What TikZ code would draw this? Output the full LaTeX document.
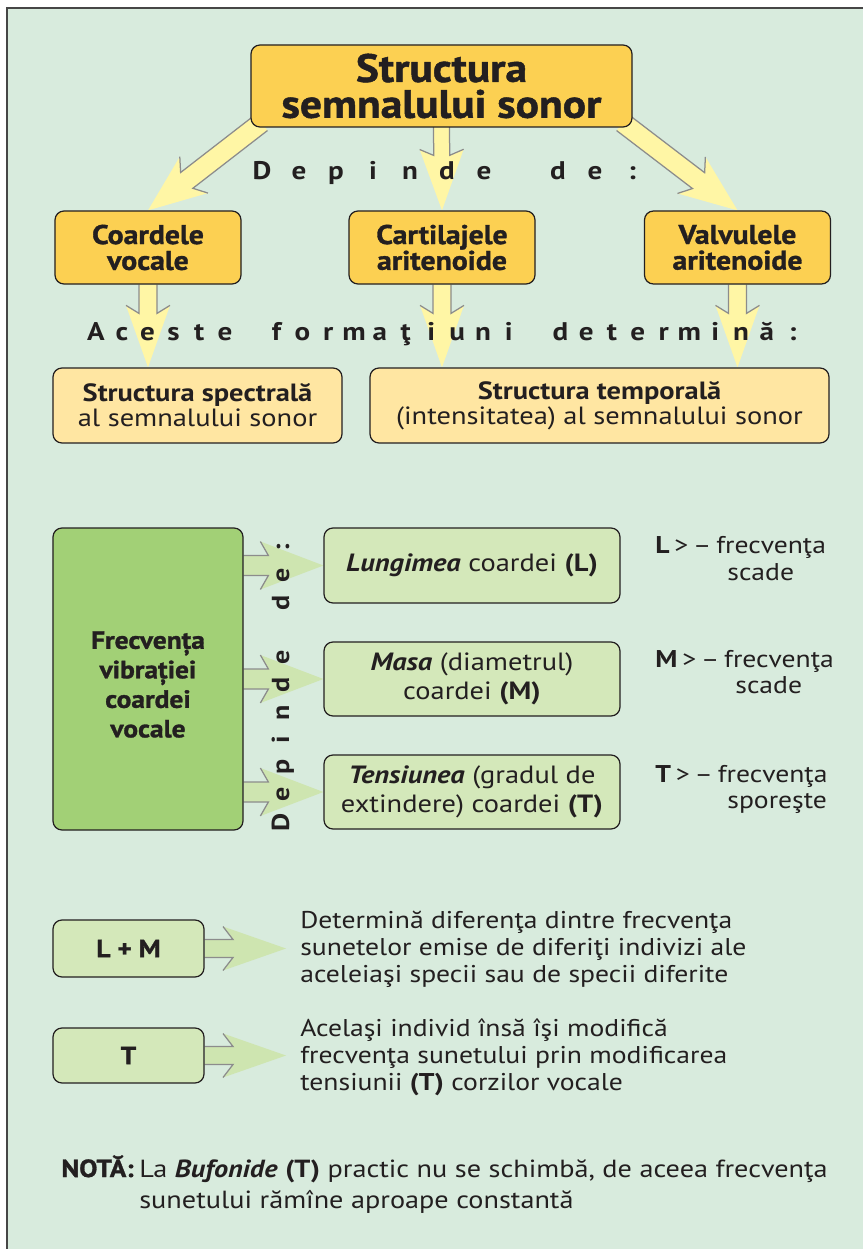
\documentclass[tikz,border=0pt]{standalone}
\usepackage{fontspec}
\setmainfont[FakeStretch=1.14]{PT Sans}
\newfontfamily\heavyfont[FakeStretch=1.1, FakeBold=1.2]{PT Sans}
\usetikzlibrary{calc}

\definecolor{bgmint}{RGB}{216,235,221}
\definecolor{framegray}{RGB}{70,70,70}
\definecolor{inkblack}{RGB}{35,31,32}
\definecolor{boxorange}{RGB}{252,208,82}
\definecolor{boxcream}{RGB}{255,230,162}
\definecolor{arrowyellow}{RGB}{255,246,165}
\definecolor{boxgreen}{RGB}{162,208,118}
\definecolor{boxlight}{RGB}{212,232,186}
\definecolor{arrowgreen}{RGB}{206,229,176}
\definecolor{edgegray}{RGB}{140,140,140}

\newcommand\titlesize{\fontsize{22.5}{20.4}\selectfont}
\newcommand\headsize{\fontsize{15.4}{14.7}\selectfont}
\newcommand\spacesize{\fontsize{14.5}{15}\selectfont}
\newcommand\vspacesize{\fontsize{14}{14}\selectfont}
\newcommand\cardsize{\fontsize{14.2}{14.2}\selectfont}
\newcommand\freqsize{\fontsize{14.2}{16.8}\selectfont}
\newcommand\bodysize{\fontsize{13.8}{15.3}\selectfont}
\newcommand\notesize{\fontsize{14.1}{17.6}\selectfont}

\pgfdeclarelayer{back}
\pgfdeclarelayer{mid}
\pgfsetlayers{back,mid,main}

\tikzset{
  card/.style={draw=inkblack, line width=0.7pt, rounded corners=1.8mm, align=center, inner sep=0pt, text=inkblack},
  spaced/.style={font=\spacesize\bfseries, text=inkblack, inner sep=0pt},
  sidenote/.style={font=\bodysize, text=inkblack, inner sep=0pt, align=left},
  arrowedge/.style={draw=edgegray, line width=0.25mm}
}

% notched fat arrow: [fill](start)(tip)(shaft half:head half:head length:notch)
\def\fatarrow[#1](#2)(#3)(#4:#5:#6:#7){%
  \coordinate (fa-s) at (#2);
  \coordinate (fa-t) at (#3);
  \coordinate (fa-b) at ($(fa-t)!{#6*0.2mm}!(fa-s)$);
  \coordinate (fa-m) at ($(fa-b)!{#7*0.2mm}!(fa-t)$);
  \coordinate (fa-wl) at ($(fa-b)!{#5*0.2mm}!90:(fa-t)$);
  \coordinate (fa-wr) at ($(fa-b)!{#5*0.2mm}!-90:(fa-t)$);
  \coordinate (fa-nl) at ($(fa-m)!{#4*0.2mm}!90:(fa-t)$);
  \coordinate (fa-nr) at ($(fa-m)!{#4*0.2mm}!-90:(fa-t)$);
  \coordinate (fa-sl) at ($(fa-s)!{#4*0.2mm}!90:(fa-t)$);
  \coordinate (fa-sr) at ($(fa-s)!{#4*0.2mm}!-90:(fa-t)$);
  \fill[#1] (fa-sl) -- (fa-nl) -- (fa-wl) -- (fa-t) -- (fa-wr) -- (fa-nr) -- (fa-sr) -- cycle;
  \draw[arrowedge] (fa-wl) -- (fa-nl) -- (fa-sl) (fa-sr) -- (fa-nr) -- (fa-wr);
}

\begin{document}
\begin{tikzpicture}[x=0.2mm, y=-0.2mm]
	%%%%% START %%%%%
	\useasboundingbox (0,0) rectangle (863,1249);
	\begin{pgfonlayer}{back}
		\fill[bgmint] (7,8) rectangle (863,1249);
		\draw[framegray, line width=0.3mm] (7,1249) -- (7,8) -- (863,8);
	\end{pgfonlayer}
	
	% top part
	\node[card, fill=boxorange, minimum width=76.2mm, minimum height=16.4mm, font=\heavyfont\titlesize\bfseries] (title) at (441.5,86) {Structura\\semnalului sonor};
	
	\node[card, fill=boxorange, minimum width=37.2mm, minimum height=14.6mm, font=\heavyfont\headsize\bfseries] (coard) at (148,247.5) {Coardele\\vocale};
	\node[card, fill=boxorange, minimum width=37.2mm, minimum height=14.6mm, font=\heavyfont\headsize\bfseries] (cart) at (442,247.5) {Cartilajele\\aritenoide};
	\node[card, fill=boxorange, minimum width=37.2mm, minimum height=14.6mm, font=\heavyfont\headsize\bfseries] (valv) at (737.5,247.5) {Valvulele\\aritenoide};
	
	\node[card, fill=boxcream, minimum width=57.8mm, minimum height=15mm, font=\cardsize] (spec) at (197.5,405.5) {\textbf{Structura spectrală}\\al semnalului sonor};
	\node[card, fill=boxcream, minimum width=91.8mm, minimum height=15mm, font=\cardsize] (temp) at (599.5,405.5) {\textbf{Structura temporală}\\(intensitatea) al semnalului sonor};
	
	\coordinate (tl) at ($(title.south west)+(11,-5)$);
	\coordinate (tc) at ($(title.south)+(0,-5)$);
	\coordinate (tr) at ($(title.south east)+(-10,-5)$);
	\begin{pgfonlayer}{mid}
		\fatarrow[arrowyellow](tl)(coard.north)(10:23:58:9)
		\fatarrow[arrowyellow](tc)(cart.north)(8:22:61:6)
		\fatarrow[arrowyellow](tr)(valv.north)(10:23:58:9)
		\fatarrow[arrowyellow](coard.south)(coard.south |- spec.north)(9:22:62:8)
		\fatarrow[arrowyellow](cart.south)(cart.south |- temp.north)(9:22:62:8)
		\fatarrow[arrowyellow](valv.south)(valv.south |- temp.north)(9:22:62:8)
	\end{pgfonlayer}
	
	\foreach \ch [count=\i from 0] in {D,e,p,i,n,d,e,{},d,e,:}
		\node[spaced, anchor=base] (dep\i) at (262+37*\i,180) {\ch};
	\foreach \ch [count=\i from 0] in {A,c,e,s,t,e,{},f,o,r,m,a,ţ,i,u,n,i,{},d,e,t,e,r,m,i,n,ă,:}
		\node[spaced, anchor=base] (ace\i) at (96+25.8*\i,340) {\ch};
	
	% middle part
	\node[card, fill=boxgreen, minimum width=38mm, minimum height=60.4mm, font=\heavyfont\freqsize\bfseries] (freq) at (148,679) {\rule{0pt}{5.7mm}Frecvența\\vibrației\\coardei\\vocale};
	
	\node[card, fill=boxlight, minimum width=59.2mm, minimum height=15mm, font=\freqsize] (lung) at (472,565.5) {\textbf{\textit{Lungimea}} coardei \textbf{(L)}};
	\node[card, fill=boxlight, minimum width=59.2mm, minimum height=14.8mm, font=\freqsize] (masa) at (472,679) {\textbf{\textit{Masa}} (diametrul)\\coardei \textbf{(M)}};
	\node[card, fill=boxlight, minimum width=59.2mm, minimum height=14.8mm, font=\freqsize] (tens) at (472,792) {\textbf{\textit{Tensiunea}} (gradul de\\extindere) coardei \textbf{(T)}};
	
	\begin{pgfonlayer}{mid}
		\fatarrow[arrowgreen](freq.east |- lung.west)(lung.west)(10:24:63:8)
		\fatarrow[arrowgreen](freq.east |- masa.west)(masa.west)(10:24:63:8)
		\fatarrow[arrowgreen](freq.east |- tens.west)(tens.west)(10:24:63:8)
	\end{pgfonlayer}
	
	\foreach \ch [count=\i from 0] in {D,e,p,i,n,d,e,{},d,e,:}
		\node[spaced, font=\vspacesize\bfseries, anchor=base, rotate=90] (vdep\i) at (289,822-27.4*\i) {\ch};
	
	\node[sidenote, anchor=base west] (lnote) at (655,553) {\textbf{L}\hspace{0.2em}>\hspace{0.2em}–\hspace{0.2em}frecvenţa};
	\node[sidenote, anchor=base west] (lnote2) at (727,580) {scade};
	\node[sidenote, anchor=base west] (mnote) at (655,667) {\textbf{M}\hspace{0.2em}>\hspace{0.2em}–\hspace{0.2em}frecvenţa};
	\node[sidenote, anchor=base west] (mnote2) at (735,693) {scade};
	\node[sidenote, anchor=base west] (tnote) at (655,782) {\textbf{T}\hspace{0.2em}>\hspace{0.2em}–\hspace{0.2em}frecvenţa};
	\node[sidenote, anchor=base west] (tnote2) at (727,808) {sporeşte};
	
	% bottom part
	\node[card, fill=boxlight, minimum width=30.2mm, minimum height=11.4mm, font=\heavyfont\freqsize\bfseries] (lm) at (128.5,948.5) {L + M};
	\node[card, fill=boxlight, minimum width=30.2mm, minimum height=11mm, font=\heavyfont\freqsize\bfseries] (tt) at (128.5,1055.5) {T};
	
	\coordinate (lm-tip) at (286,948.5);
	\coordinate (tt-tip) at (286,1055.5);
	\begin{pgfonlayer}{mid}
		\fatarrow[arrowgreen](lm.east)(lm-tip)(9:22:63:10)
		\fatarrow[arrowgreen](tt.east)(tt-tip)(9:22:63:10)
	\end{pgfonlayer}
	
	\node[sidenote, anchor=base west] (lmtext) at (300,982) {Determină diferenţa dintre frecvenţa\\sunetelor emise de diferiţi indivizi ale\\aceleiaşi specii sau de specii diferite};
	\node[sidenote, anchor=base west] (tttext) at (300,1090) {Acelaşi individ însă îşi modifică\\frecvenţa sunetului prin modificarea\\tensiunii \textbf{(T)} corzilor vocale};
	
	\node[sidenote, font=\notesize, anchor=base west] (notetext) at (139,1208) {La \textbf{\textit{Bufonide}} \textbf{(T)} practic nu se schimbă, de aceea frecvenţa\\sunetului rămîne aproape constantă};
	\node[sidenote, font=\heavyfont\notesize\bfseries, anchor=base east] (notelabel) at (134,1177) {NOTĂ:};
	%%%%% END %%%%%
\end{tikzpicture}
\end{document}
